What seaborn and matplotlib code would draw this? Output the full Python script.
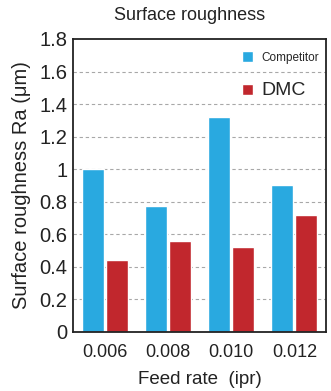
import pandas as pd
import seaborn as sns
import matplotlib.pyplot as plt

# values
feed_rates = ["0.006", "0.008", "0.010", "0.012"]
competitor = [1.00, 0.77, 1.32, 0.90]
dmc = [0.44, 0.56, 0.52, 0.72]
y_ticks = [0, 0.2, 0.4, 0.6, 0.8, 1, 1.2, 1.4, 1.6, 1.8]

df = pd.DataFrame({
    "feed": feed_rates * 2,
    "ra": competitor + dmc,
    "tool": ["Competitor"] * 4 + ["DMC"] * 4,
})

sns.set_style("white")
plt.rcParams["font.family"] = ["Liberation Sans", "DejaVu Sans"]

fig = plt.figure(figsize=(3.31, 3.91), dpi=100, facecolor="white")
ax = fig.add_axes([0.2205, 0.1517, 0.7645, 0.7486])

sns.barplot(data=df, x="feed", y="ra", hue="tool", order=feed_rates,
            palette={"Competitor": "#29a9e0", "DMC": "#c1272d"},
            width=0.76, gap=0.08, saturation=1, ax=ax)

ax.set_xlim(-0.5, 3.5)
ax.set_ylim(0, 1.8)
ax.set_yticks(y_ticks)
ax.set_yticklabels([f"{t:g}" for t in y_ticks])
# dashed horizontal grid
for t in y_ticks[1:-1]:
    ax.axhline(t, color="#a8a8a8", linewidth=0.8, linestyle=(0, (3, 2.5)), zorder=0)
ax.set_axisbelow(True)

for s in ax.spines.values():
    s.set_color("#222222")
    s.set_linewidth(1.3)
ax.tick_params(axis="both", length=0, labelsize=14.5, colors="#222222", pad=4)
ax.tick_params(axis="x", labelsize=13, pad=9)

ax.set_xlabel("Feed rate  (ipr)", fontsize=13.5, color="#222222", labelpad=7)
ax.set_ylabel("Surface roughness Ra (μm)", fontsize=14.5, color="#222222", labelpad=6)
fig.text(190 / 331, 1 - 16 / 391, "Surface roughness", ha="center", va="center",
         fontsize=13, color="#222222")

leg = ax.legend(loc="upper right", frameon=False, handlelength=0.8, handleheight=0.8,
                handletextpad=0.6, labelspacing=1.25, borderaxespad=0.3,
                bbox_to_anchor=(1.01, 0.992))
leg.get_texts()[0].set_fontsize(8.5)
leg.get_texts()[1].set_fontsize(14)

fig.savefig("out.png", dpi=100, facecolor="white")
